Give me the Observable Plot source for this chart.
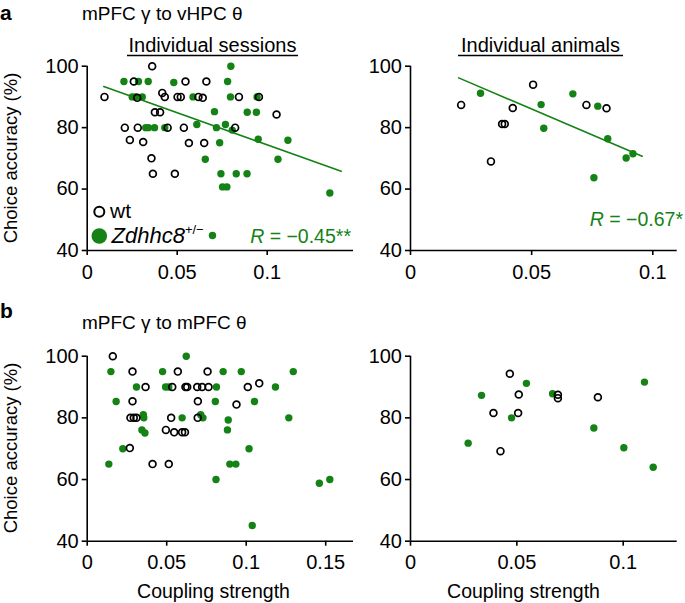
<!DOCTYPE html>
<html><head><meta charset="utf-8">
<script src="https://cdn.jsdelivr.net/npm/d3@7"></script>
<script src="https://cdn.jsdelivr.net/npm/@observablehq/plot@0.6"></script>
<style>
body{margin:0;background:#fff;}
#fig{position:relative;width:685px;height:603px;overflow:hidden;font-family:Arial,"Liberation Sans",Helvetica,sans-serif;}
#fig svg{position:absolute;left:0;top:0;}
</style></head><body><div id="fig"></div>
<script>
const green = "rgb(20,130,20)";
const FONT = 'Arial, "Liberation Sans", Helvetica, sans-serif';

// ---- data: [coupling strength, choice accuracy %] ----
const vhpcSessionsWt = [
[0.0096,90],[0.0361,100],[0.0259,95],[0.0546,95],[0.0662,95],
[0.0278,89.7],[0.0417,91.3],[0.0431,90],[0.0502,90],[0.0520,90],[0.0618,90],[0.0642,89.7],[0.0843,90],[0.0954,90],
[0.0376,85],[0.0405,85],[0.1052,84.3],
[0.0209,80],[0.0281,80],[0.0447,80],[0.0537,80],[0.0822,80],
[0.0237,76],[0.0311,75.3],[0.0565,75],[0.0650,75],
[0.0357,70],[0.0365,65],[0.0487,65]];
const vhpcSessionsMut = [
[0.0798,100],
[0.0204,95],[0.0285,95],[0.0339,95],[0.0481,94.7],[0.0780,95],
[0.0250,90],[0.0268,90],[0.0306,90],[0.0588,90],[0.0796,90],[0.0944,90],
[0.0707,85.2],[0.0889,85],[0.0940,85],
[0.0325,80],[0.0340,80],[0.0374,80],[0.0431,80],[0.0609,81],[0.0718,80],[0.0768,81],[0.0806,79.2],
[0.0736,75.1],[0.0950,76.2],[0.1115,75.9],
[0.0656,69.7],[0.1060,69.7],
[0.0743,65],[0.0828,65],[0.0888,65],
[0.0752,60.7],[0.0776,60.7],
[0.1348,58.7],
[0.0696,44.9]];
const vhpcSessionsFit = [[0.0092,93.4],[0.1411,65.8]];

const vhpcAnimalsWt = [[0.0209,87.4],[0.0506,94.0],[0.0422,86.4],[0.0378,81.2],[0.0389,81.2],[0.0332,69.0],[0.0726,87.4],[0.0809,86.3]];
const vhpcAnimalsMut = [[0.0289,91.2],[0.0539,87.5],[0.0550,79.8],[0.0670,91.0],[0.0773,87.0],[0.0814,76.4],[0.0757,63.7],[0.0890,70.1],[0.0918,71.5]];
const vhpcAnimalsFit = [[0.0199,96.2],[0.0956,70.7]];

const mpfcSessionsWt = [
[0.0161,100],
[0.0285,95],[0.0570,95],[0.0757,95],
[0.0367,90],[0.0535,90],[0.0618,90],[0.0629,90],[0.0692,90],[0.0723,90],[0.0763,90],[0.1010,90],[0.1082,91.2],
[0.0285,85.4],[0.0696,85.4],[0.0939,84.3],
[0.0272,80],[0.0293,80],[0.0310,80],[0.0528,80],[0.0695,80],
[0.0495,76.1],[0.0547,75.3],[0.0597,75.3],[0.0615,75.3],
[0.0268,70.2],
[0.0411,65],[0.0513,65]];
const mpfcSessionsMut = [
[0.0623,100],
[0.0149,95],[0.0474,95],[0.0855,95],[0.0969,95],[0.1296,95],
[0.0310,90],[0.0493,90],[0.0513,90],[0.0813,90],[0.1184,90],
[0.0182,85.3],[0.0806,85.3],[0.1052,85.3],
[0.0353,81],[0.0356,80],[0.0597,80],[0.0714,81],[0.0728,80],[0.0887,79.3],[0.1268,80],
[0.0344,76.1],[0.0363,75.1],[0.0882,76.1],
[0.0224,70],[0.1018,70],
[0.0136,65],[0.0897,65],[0.0935,65],
[0.0810,60],[0.1460,58.8],[0.1526,60],
[0.1038,45.1]];

const mpfcAnimalsWt = [[0.0467,94.3],[0.0509,87.6],[0.0390,81.6],[0.0506,81.6],[0.0423,69.2],[0.0693,87.5],[0.0693,86.4],[0.0881,86.7]];
const mpfcAnimalsMut = [[0.0271,71.8],[0.0334,87.3],[0.0475,80],[0.0545,91.2],[0.0668,87.8],[0.0862,76.7],[0.1003,70.3],[0.1100,91.6],[0.1141,64]];

const xTicksNarrow = [0, 0.05, 0.1];
const xTicksWide = [0, 0.05, 0.1, 0.15];
const yTicks = [40, 60, 80, 100];
const yDomain = [40, 100];

// ---- layout (page pixels of each plot frame) ----
const W = 685, H = 603;
function panel({wt, mut, fit, xMax, xTicks, fl, fr, ft, fb}) {
  const marks = [
    Plot.ruleX([0], {strokeWidth: 1.6}),
    Plot.ruleY([40], {strokeWidth: 1.6}),
    Plot.axisX({ticks: xTicks, tickSize: 5, tickPadding: 9, strokeWidth: 1.6, tickFormat: d => String(d), label: null, fontSize: 20}),
    Plot.axisY({ticks: yTicks, tickSize: 5, tickPadding: 3.5, strokeWidth: 1.6, label: null, fontSize: 20})
  ];
  if (fit) marks.push(Plot.line(fit, {x: d => d[0], y: d => d[1], stroke: green, strokeWidth: 1.6}));
  marks.push(Plot.dot(mut, {x: d => d[0], y: d => d[1], r: 3.7, fill: green, stroke: "none"}));
  marks.push(Plot.dot(wt, {x: d => d[0], y: d => d[1], r: 3.4, fill: "none", stroke: "#000", strokeWidth: 1.7}));
  return Plot.plot({
    width: W, height: H,
    marginLeft: fl, marginRight: W - fr, marginTop: ft, marginBottom: H - fb,
    x: {domain: [0, xMax]}, y: {domain: yDomain},
    style: {fontFamily: FONT, fontSize: "20px", color: "#000", background: "transparent", overflow: "visible"},
    marks
  });
}

const fig = document.getElementById("fig");
fig.append(panel({wt: vhpcSessionsWt, mut: vhpcSessionsMut, fit: vhpcSessionsFit, xMax: (353 - 86.7) / 1800, xTicks: xTicksNarrow, fl: 86.7, fr: 353, ft: 65.7, fb: 250}));
fig.append(panel({wt: vhpcAnimalsWt, mut: vhpcAnimalsMut, fit: vhpcAnimalsFit, xMax: (676.7 - 410) / 2423, xTicks: xTicksNarrow, fl: 410, fr: 676.7, ft: 65.7, fb: 250}));
fig.append(panel({wt: mpfcSessionsWt, mut: mpfcSessionsMut, fit: null, xMax: (353 - 86.7) / 1590, xTicks: xTicksWide, fl: 86.7, fr: 353, ft: 355.7, fb: 540.7}));
fig.append(panel({wt: mpfcAnimalsWt, mut: mpfcAnimalsMut, fit: null, xMax: (676.7 - 410) / 2127, xTicks: xTicksNarrow, fl: 410, fr: 676.7, ft: 355.7, fb: 540.7}));

// ---- annotations ----
const ns = "http://www.w3.org/2000/svg";
const ov = document.createElementNS(ns, "svg");
ov.setAttribute("width", W); ov.setAttribute("height", H);
ov.setAttribute("font-family", FONT);
ov.innerHTML = `
<text x="0" y="19.5" font-weight="bold" font-size="21">a</text>
<text x="0" y="318" font-weight="bold" font-size="21">b</text>
<text x="82" y="19.5" font-size="19">mPFC γ to vHPC θ</text>
<text x="82" y="328.5" font-size="19">mPFC γ to mPFC θ</text>
<text x="212.5" y="51.5" text-anchor="middle" font-size="20">Individual sessions</text>
<line x1="127" x2="298" y1="55.5" y2="55.5" stroke="#000" stroke-width="1.4"/>
<text x="540.5" y="51.5" text-anchor="middle" font-size="20">Individual animals</text>
<line x1="458" x2="623" y1="55.5" y2="55.5" stroke="#000" stroke-width="1.4"/>
<text transform="translate(16.5,158) rotate(-90)" text-anchor="middle" font-size="18.5">Choice accuracy (%)</text>
<text transform="translate(16.5,448) rotate(-90)" text-anchor="middle" font-size="18.5">Choice accuracy (%)</text>
<text x="213.5" y="598" text-anchor="middle" font-size="19.5">Coupling strength</text>
<text x="523.5" y="598" text-anchor="middle" font-size="19.5">Coupling strength</text>
<circle cx="99.3" cy="211.7" r="5" fill="none" stroke="#000" stroke-width="2"/>
<text x="110" y="217.5" font-size="21">wt</text>
<circle cx="99.3" cy="236" r="7.8" fill="${green}"/>
<text x="111.5" y="243.3" font-size="22" font-style="italic">Zdhhc8<tspan dy="-9" font-size="13" font-style="normal">+/−</tspan></text>
<text x="351" y="242.7" text-anchor="end" fill="${green}" font-size="19.5"><tspan font-style="italic">R</tspan> = −0.45**</text>
<text x="683" y="225.7" text-anchor="end" fill="${green}" font-size="19.5"><tspan font-style="italic">R</tspan> = −0.67*</text>
`;
fig.append(ov);
</script></body></html>
